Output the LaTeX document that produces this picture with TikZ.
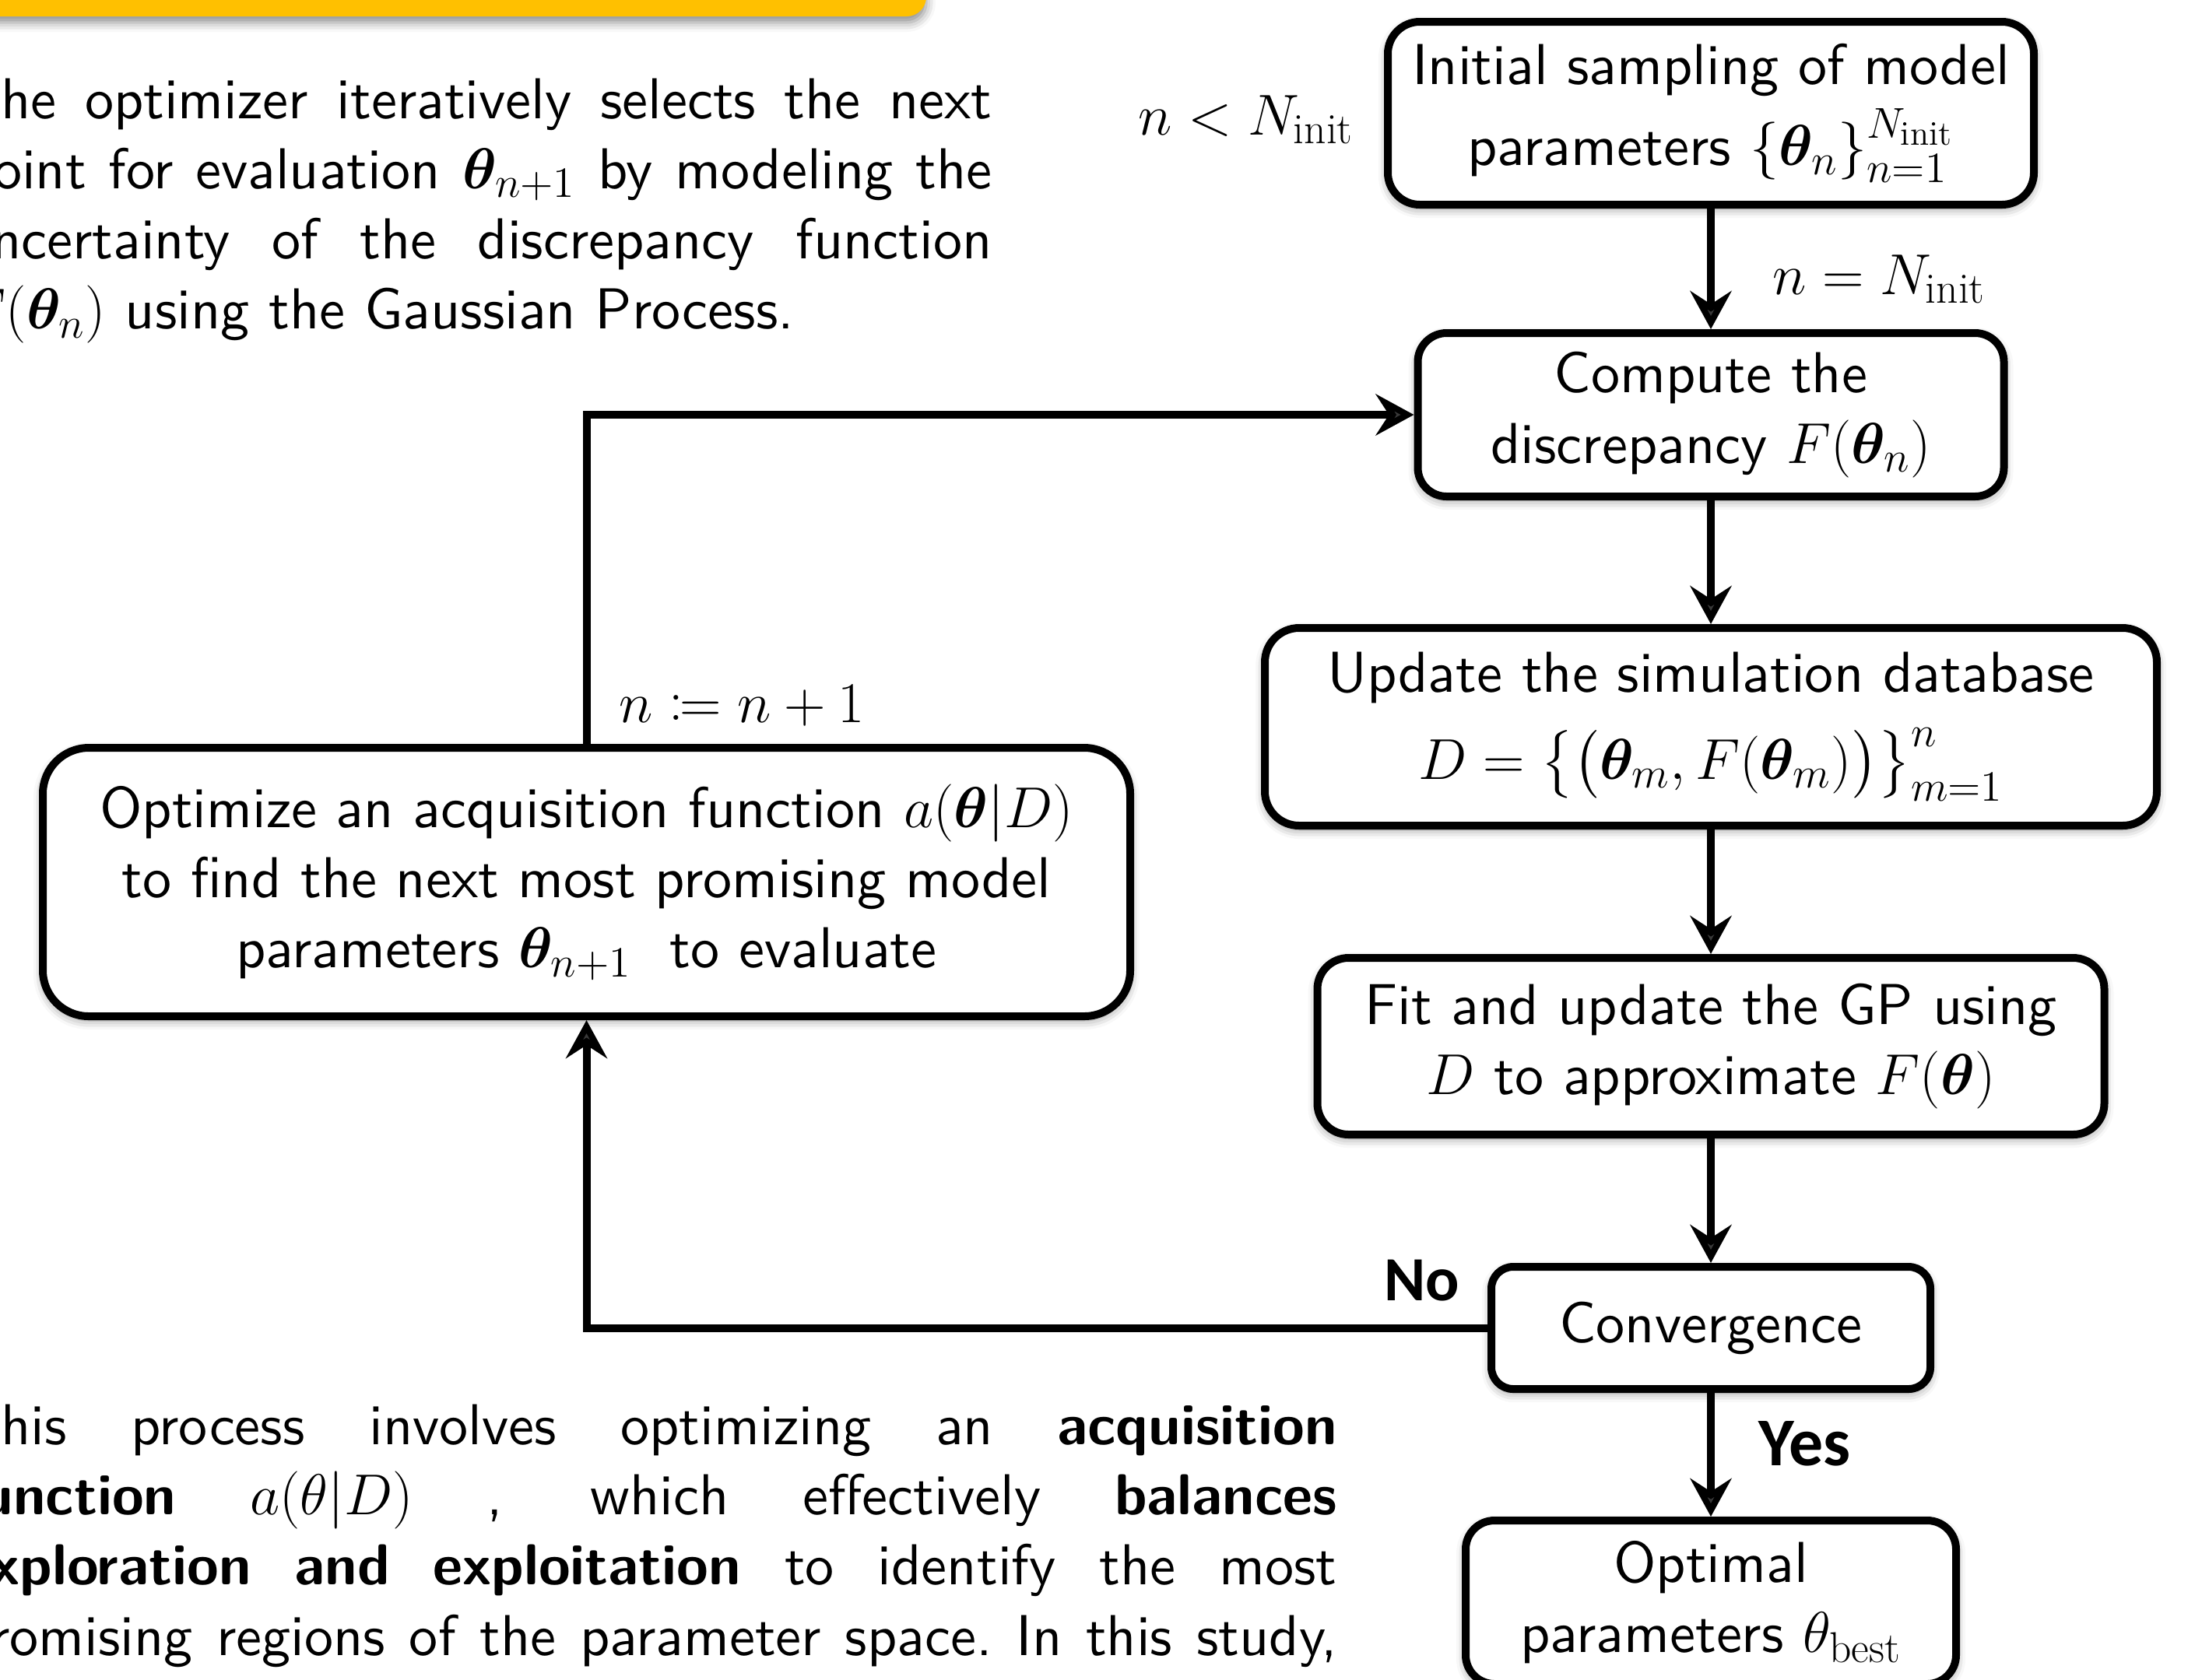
\RequirePackage{fix-cm}
\documentclass[tikz,border=0pt]{standalone}
\usepackage{mathtools}
\usepackage{bm}
\usepackage{fontspec}
\setsansfont{lmsans10-regular.otf}[BoldFont=lmsans10-bold.otf,ItalicFont=lmsans10-oblique.otf]
\newfontfamily\carl{Carlito}
\renewcommand{\familydefault}{\sfdefault}
\usetikzlibrary{arrows.meta,shadows.blur}
\DeclareMathSizes{21.1}{21.1}{15.8}{12.6}
\definecolor{bannerc}{RGB}{255,192,0}
\newcommand{\bigtext}{\fontsize{21.1pt}{25.7pt}\selectfont}
\newcommand{\yesno}{\carl\bfseries\fontsize{23pt}{27pt}\selectfont}
\newcommand{\yesfont}{\carl\bfseries\fontsize{25pt}{29pt}\selectfont}
\newcommand{\jtop}[1]{\makebox[13.24cm][s]{\spaceskip=0.3333em plus 1fil\xspaceskip=0.3333em plus 1fil #1}}
\newcommand{\jbot}[1]{\makebox[17.67cm][s]{\spaceskip=0.3333em plus 1fil\xspaceskip=0.3333em plus 1fil #1}}
\tikzset{
  every node/.style={font=\bigtext},
  stagebox/.style={draw, line width=0.1cm, fill=white, align=center, inner sep=0pt,
    rounded corners=#1,
    blur shadow={shadow xshift=0cm, shadow yshift=-0.05cm, shadow blur radius=0.12cm, shadow opacity=45}},
  arr/.style={line width=0.1cm, -{Stealth[length=0.49cm,width=0.53cm,inset=0.17cm]}},
}
\begin{document}
\begin{tikzpicture}
\useasboundingbox (0,0) rectangle (28.29,-21.58);
\clip (0,0) rectangle (28.29,-21.58);
% banner
\fill[bannerc, rounded corners=0.25cm,
  blur shadow={shadow xshift=0cm, shadow yshift=-0.08cm, shadow blur radius=0.12cm, shadow opacity=45}]
  (-1,1) rectangle (11.90,-0.21);
% top paragraph
\node[anchor=base west, text width=13.24cm, align=left, inner sep=0pt] (ptop) at (-0.50,-1.52)
{\jtop{The optimizer iteratively selects the next}\\
 \jtop{point for evaluation $\bm{\theta}_{n+1}$ by modeling the}\\
 \jtop{uncertainty of the discrepancy function}\\
 $F(\bm{\theta}_n)$ using the Gaussian Process.};
% bottom paragraph
\node[anchor=base west, text width=17.67cm, align=left, inner sep=0pt] (pbot) at (-0.50,-18.56)
{\jbot{This process involves optimizing an \textbf{acquisition}}\\
 \jbot{\textbf{function} $a(\theta|D)$ , which effectively \textbf{balances}}\\
 \jbot{\textbf{exploration and exploitation} to identify the most}\\
 \jbot{promising regions of the parameter space. In this study,}};
% boxes
\node[stagebox=0.41cm, minimum width=8.30cm, minimum height=2.35cm] (b1) at (21.98,-1.455)
  {Initial sampling of model\\[4pt]parameters $\{\bm{\theta}_n\}_{n=1}^{N_{\mathrm{init}}}$};
\node[stagebox=0.37cm, minimum width=7.53cm, minimum height=2.10cm] (b2) at (21.98,-5.33)
  {Compute the\\discrepancy $F(\bm{\theta}_n)$};
\node[stagebox=0.44cm, minimum width=11.46cm, minimum height=2.54cm] (b3) at (21.98,-9.34)
  {Update the simulation database\\[6pt]$D=\big\{\big(\bm{\theta}_m,F(\bm{\theta}_m)\big)\big\}_{m=1}^{n}$};
\node[stagebox=0.40cm, minimum width=10.11cm, minimum height=2.27cm] (b4) at (21.98,-13.445)
  {Fit and update the GP using\\$D$ to approximate $F(\bm{\theta})$};
\node[stagebox=0.28cm, minimum width=5.64cm, minimum height=1.57cm] (b5) at (21.98,-17.065)
  {Convergence};
\node[stagebox=0.37cm, minimum width=6.30cm, minimum height=2.10cm] (b6) at (21.98,-20.59)
  {Optimal\\parameters $\theta_{\mathrm{best}}$};
\node[stagebox=0.59cm, minimum width=13.97cm, minimum height=3.45cm] (b7) at (7.535,-11.335)
  {Optimize an acquisition function $a(\bm{\theta}|D)$\\to find the next most promising model\\parameters $\bm{\theta}_{n+1}$\ \ to evaluate};
% connectors
\draw[arr] (b1) -- (b2);
\draw[arr] (b2) -- (b3);
\draw[arr] (b3) -- (b4);
\draw[arr] (b4) -- (b5);
\draw[arr] (b5) -- (b6);
\draw[arr] (b7.north) |- (b2.west);
\draw[arr] (b5.west) -| (b7.south);
% labels
\node[anchor=base east, inner sep=0pt] (lless) at (17.40,-1.73) {$n < N_{\mathrm{init}}$};
\node[anchor=base west, inner sep=0pt] (leq) at (22.77,-3.78) {$n = N_{\mathrm{init}}$};
\node[anchor=base west, inner sep=0pt] (linc) at (7.95,-9.28) {$n \coloneqq n+1$};
\node[anchor=base east, inner sep=0pt, font=\yesno] (lno) at (18.76,-16.71) {No};
\node[anchor=base west, inner sep=0pt, font=\yesfont] (lyes) at (22.59,-18.83) {Yes};
\end{tikzpicture}
\end{document}
